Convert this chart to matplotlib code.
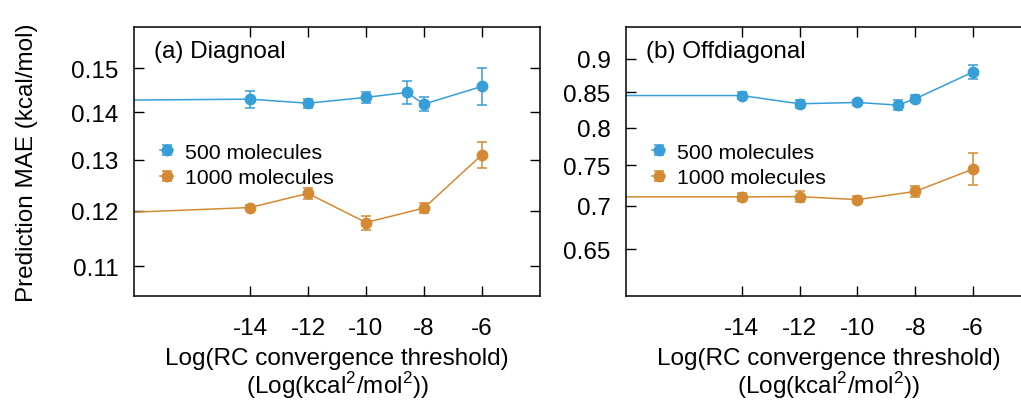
import matplotlib
matplotlib.use("Agg")
import matplotlib.pyplot as plt
from matplotlib.ticker import FixedLocator, FixedFormatter, NullLocator
from matplotlib.legend_handler import HandlerErrorbar

plt.rcParams['font.family'] = ['Liberation Sans', 'DejaVu Sans']
plt.rcParams['mathtext.fontset'] = 'custom'
plt.rcParams['mathtext.rm'] = 'Liberation Sans'
plt.rcParams['axes.unicode_minus'] = False

blue = '#389ED7'
orange = '#D38A33'

# (a) Diagonal
x_a_500 = [-20, -14, -12, -10, -8.6, -8, -6]
mae_a_500 = [0.1426, 0.1429, 0.1420, 0.1433, 0.1444, 0.1418, 0.1458]
err_a_500 = [0, 0.0019, 0.0010, 0.0013, 0.0026, 0.0016, 0.0042]
x_a_1000 = [-20, -14, -12, -10, -8, -6]
mae_a_1000 = [0.1193, 0.1206, 0.1233, 0.1178, 0.1205, 0.1310]
err_a_1000 = [0, 0.0004, 0.0010, 0.0013, 0.0010, 0.0026]

# (b) Offdiagonal
x_b_500 = [-20, -14, -12, -10, -8.6, -8, -6]
mae_b_500 = [0.845, 0.845, 0.8332, 0.8351, 0.8313, 0.8403, 0.8798]
err_b_500 = [0, 0.005, 0.006, 0.004, 0.0066, 0.005, 0.010]
x_b_1000 = [-20, -14, -12, -10, -8, -6]
mae_b_1000 = [0.7107, 0.7107, 0.7110, 0.7074, 0.7173, 0.7454]
err_b_1000 = [0, 0.0045, 0.0065, 0.004, 0.0067, 0.020]

xticks = [-14, -12, -10, -8, -6]
yticks_a = [0.11, 0.12, 0.13, 0.14, 0.15]
yticks_b = [0.65, 0.7, 0.75, 0.8, 0.85, 0.9]

fig = plt.figure(figsize=(10.21, 4.02), dpi=100)
ax1 = fig.add_axes([0.1312, 0.2612, 0.3977, 0.6692])
ax2 = fig.add_axes([0.6131, 0.2612, 0.3967, 0.6692])

fs = 17.5
xlabel = 'Log(RC convergence threshold)\n(Log(kcal$^{\\mathrm{2}}$/mol$^{\\mathrm{2}}$))'


def panel(ax, x5, y5, e5, x1, y1, e1, yticks, ylim, title):
    kw = dict(fmt='-o', lw=1.1, ms=7.5, capsize=3.8, elinewidth=1.1, capthick=1.1)
    h5 = ax.errorbar(x5, y5, yerr=e5, color=blue, label='500 molecules', **kw)
    h1 = ax.errorbar(x1, y1, yerr=e1, color=orange, label='1000 molecules', **kw)
    ax.set_yscale('log')
    ax.set_xlim(-18, -4)
    ax.set_ylim(*ylim)
    ax.xaxis.set_major_locator(FixedLocator(xticks))
    ax.set_xticklabels([str(t) for t in xticks])
    ax.yaxis.set_major_locator(FixedLocator(yticks))
    ax.yaxis.set_major_formatter(FixedFormatter([('%g' % t) for t in yticks]))
    ax.yaxis.set_minor_locator(NullLocator())
    ax.tick_params(which='both', direction='in', top=True, right=True,
                   length=7, width=1, labelsize=fs)
    ax.tick_params(axis='x', pad=15)
    ax.tick_params(axis='y', pad=11)
    for s in ax.spines.values():
        s.set_linewidth(1.1)
    ax.set_xlabel(xlabel, fontsize=fs, linespacing=1.0, labelpad=6)
    ax.text(0.05, 0.888, title, transform=ax.transAxes, fontsize=fs, va='baseline')
    hm = {h5: HandlerErrorbar(xerr_size=0.25, yerr_size=0.25),
          h1: HandlerErrorbar(xerr_size=0.25, yerr_size=0.25)}
    ax.legend(handles=[h5, h1], loc='center left', bbox_to_anchor=(0.065, 0.487),
              frameon=False, fontsize=15.3, handlelength=0.6, handletextpad=0.55,
              labelspacing=0.32, borderpad=0, borderaxespad=0, handler_map=hm)


panel(ax1, x_a_500, mae_a_500, err_a_500, x_a_1000, mae_a_1000, err_a_1000,
      yticks_a, (0.105, 0.16), '(a) Diagnoal')
panel(ax2, x_b_500, mae_b_500, err_b_500, x_b_1000, mae_b_1000, err_b_1000,
      yticks_b, (0.6, 0.95), '(b) Offdiagonal')

ax1.set_ylabel('Prediction MAE (kcal/mol)', fontsize=fs)
ax1.yaxis.set_label_coords(-0.236, 0.5)

fig.savefig('out.png', dpi=100)
